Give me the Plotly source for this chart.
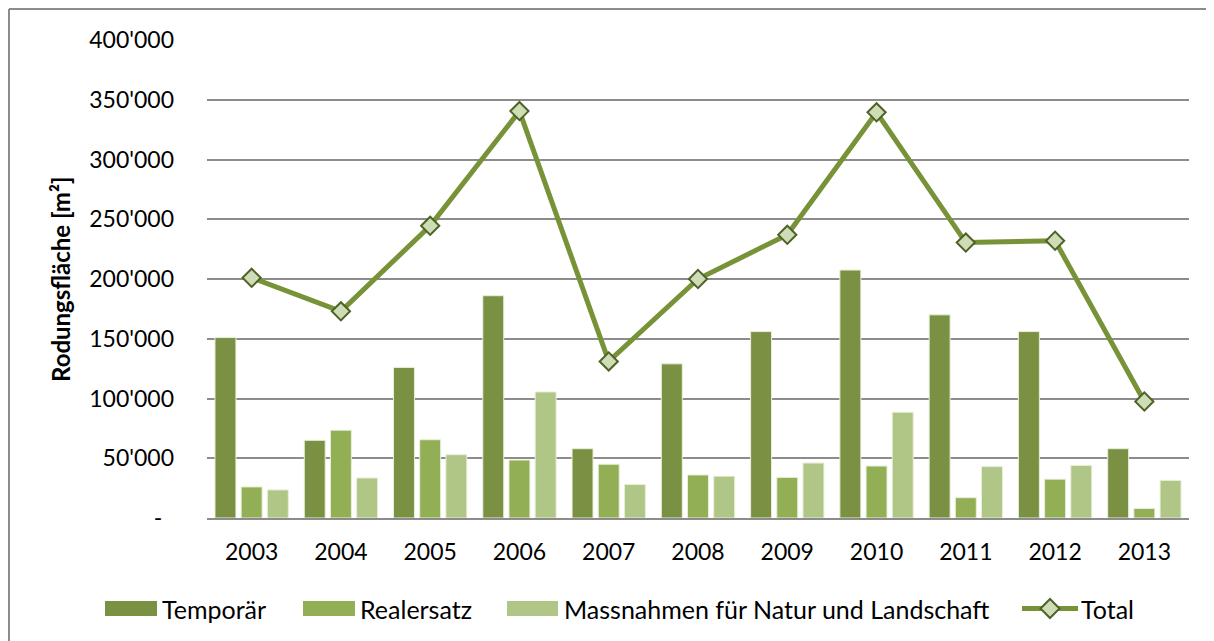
import plotly.graph_objects as go

years = ["2003", "2004", "2005", "2006", "2007", "2008", "2009", "2010", "2011", "2012", "2013"]
temporaer = [151000, 65000, 126000, 186000, 58000, 129000, 156000, 207500, 170000, 156000, 58000]
realersatz = [26000, 73500, 65500, 48500, 45000, 36000, 34000, 43500, 17000, 32500, 8000]
massnahmen = [23500, 33500, 53000, 105500, 28000, 35000, 46000, 88500, 43000, 44000, 31500]
total = [201000, 173000, 244500, 340500, 131000, 200000, 237000, 339500, 230500, 232000, 97500]

tick_vals = [0, 50000, 100000, 150000, 200000, 250000, 300000, 350000, 400000]
tick_text = ["-\u00a0\u00a0", "50'000", "100'000", "150'000", "200'000", "250'000", "300'000", "350'000", "400'000"]

names = ["Temporär", "Realersatz", "Massnahmen für Natur und Landschaft", "Total"]
c_temp = "#7A9143"
c_real = "#93AF55"
c_mass = "#AFC686"
c_line = "#789238"
c_mfill = "#CEDDB6"
c_medge = "#4F6228"
grid = "#8C8C8C"
FONT = "Lato"

# page body has an 8px margin; figure coordinates are page coordinates minus OFF
OFF = 8
W, H = 1214 - OFF, 641 - OFF
PL, PR, PT, PB = 207, 1189, 40, 518  # plot area in page pixels
L, T = PL - OFF, PT - OFF
PW, PH = PR - PL, PB - PT
R, B = W - L - PW, H - T - PH


def px(x):
    return (x - PL) / PW


def py(y):
    return (PB - y) / PH


fig = go.Figure()
for vals, col, nm in [(temporaer, c_temp, names[0]), (realersatz, c_real, names[1]), (massnahmen, c_mass, names[2])]:
    fig.add_trace(go.Bar(x=years, y=vals, name=nm, marker=dict(color=col, line=dict(color="#E8EFD9", width=1)),
                         showlegend=False))
fig.add_trace(go.Scatter(x=years, y=total, name=names[3], mode="lines+markers",
                         line=dict(color=c_line, width=5),
                         marker=dict(symbol="diamond", size=14, color=c_mfill, line=dict(color=c_medge, width=2)),
                         showlegend=False))

shapes = []
annotations = []
# outer chart border (left and top edges visible)
shapes.append(dict(type="line", xref="paper", yref="paper", x0=px(9), x1=px(1230), y0=py(9), y1=py(9),
                   line=dict(color="#8C8C8C", width=2)))
shapes.append(dict(type="line", xref="paper", yref="paper", x0=px(9), x1=px(9), y0=py(9), y1=py(660),
                   line=dict(color="#8C8C8C", width=2)))

# legend
ly = 608.5
LFS = 25
for (x0, x1, tx, col, nm) in [(105, 157, 162, c_temp, names[0]), (303, 355, 360, c_real, names[1]),
                              (507, 558, 564, c_mass, names[2])]:
    shapes.append(dict(type="rect", xref="paper", yref="paper", x0=px(x0), x1=px(x1), y0=py(ly - 7.5), y1=py(ly + 7.5),
                       fillcolor=col, line=dict(width=0)))
    annotations.append(dict(x=px(tx), y=py(ly), xref="paper", yref="paper", text=nm, showarrow=False,
                            xanchor="left", yanchor="middle", xshift=-2,
                            font=dict(family=FONT, size=LFS, color="#000000")))
shapes.append(dict(type="line", xref="paper", yref="paper", x0=px(1022), x1=px(1078), y0=py(ly), y1=py(ly),
                   line=dict(color=c_line, width=5)))
shapes.append(dict(type="path", xref="paper", yref="paper",
                   path="M {a},{b} L {c},{d} L {e},{b} L {c},{f} Z".format(
                       a=px(1040.5), b=py(ly), c=px(1050), d=py(ly - 9.5), e=px(1059.5), f=py(ly + 9.5)),
                   fillcolor=c_mfill, line=dict(color=c_medge, width=2)))
annotations.append(dict(x=px(1081), y=py(ly), xref="paper", yref="paper", text=names[3], showarrow=False,
                        xanchor="left", yanchor="middle", xshift=-2,
                        font=dict(family=FONT, size=LFS, color="#000000")))

# y axis title
annotations.append(dict(x=px(60), y=py(279), xref="paper", yref="paper", text="<b>Rodungsfläche [m²]</b>",
                        showarrow=False, textangle=-90, xanchor="center", yanchor="middle",
                        font=dict(family=FONT, size=24, color="#000000")))

fig.update_layout(
    width=W, height=H,
    margin=dict(l=L, r=R, t=T, b=B, autoexpand=False),
    paper_bgcolor="white", plot_bgcolor="white",
    barmode="group", bargap=0.12, bargroupgap=0.2,
    font=dict(family=FONT, size=23, color="#000000"),
    shapes=shapes, annotations=annotations,
    xaxis=dict(type="category", range=[-0.5, 10.5], showgrid=False, showline=True, linecolor=grid, linewidth=2,
               ticks="", ticklabelstandoff=12, tickfont=dict(family=FONT, size=23)),
    yaxis=dict(range=[0, 400000], tickvals=tick_vals, ticktext=tick_text, showgrid=True, gridcolor=grid,
               gridwidth=1.5, zeroline=False, showline=False, ticks="", ticklabelstandoff=32,
               tickfont=dict(family=FONT, size=23)),
)

fig.write_html("out.html")
